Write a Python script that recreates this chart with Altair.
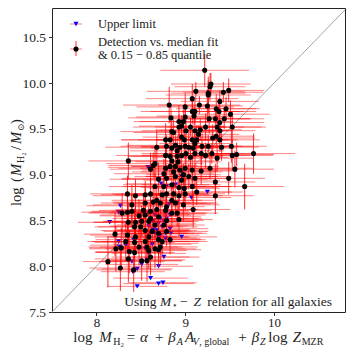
import altair as alt
import pandas as pd

# ---------------- data ----------------
det_x = [9.22, 9.29, 9.28, 9.12, 9.26, 9.26, 9.43, 9.49, 9.08, 9.39,
         9.00, 9.16, 9.25, 9.11, 9.08, 9.35, 9.38, 9.46, 9.51, 8.82,
         8.84, 9.00, 9.10, 9.27, 9.34, 9.44, 9.39, 8.98, 8.93, 8.96,
         8.93, 9.06, 9.17, 9.23, 9.36, 9.53, 8.85, 8.87, 9.01, 9.11,
         9.15, 9.39, 9.31, 8.83, 8.78, 8.96, 8.99, 9.08, 9.13, 9.35,
         9.39, 8.68, 8.79, 8.85, 8.89, 8.94, 9.00, 9.04, 9.09, 9.11,
         9.19, 9.26, 8.91, 9.41, 9.52, 8.78, 8.83, 8.91, 8.96, 9.01,
         9.06, 9.11, 9.18, 9.23, 9.30, 9.36, 9.53, 9.58, 9.77, 8.36,
         8.85, 8.92, 8.66, 8.64, 8.61, 8.78, 8.83, 8.89, 8.94, 9.00,
         9.08, 9.18, 9.28, 9.56, 8.76, 8.87, 8.98, 8.70, 8.79, 8.89,
         8.96, 9.04, 9.11, 9.34, 9.49, 9.67, 8.66, 8.76, 8.85, 8.93,
         8.99, 9.08, 8.35, 8.44, 8.55, 8.61, 8.74, 8.79, 8.87, 8.93,
         9.00, 9.13, 9.34, 8.68, 8.85, 8.40, 8.55, 8.64, 8.72, 8.79,
         8.89, 8.98, 8.29, 8.35, 8.40, 8.53, 8.61, 8.68, 8.78, 8.85,
         8.91, 9.09, 8.48, 8.55, 8.61, 8.70, 8.36, 8.44, 8.51, 8.59,
         8.79, 8.93, 8.43, 8.50, 8.66, 8.76, 8.55, 8.63, 8.70, 8.79,
         8.21, 8.35, 8.44, 8.59, 8.83, 8.70, 8.33, 8.43, 8.55, 8.74,
         8.22, 8.28, 8.48, 8.57, 8.66, 8.72, 8.37, 8.43, 8.59, 8.70,
         8.13, 8.27, 8.42, 8.51, 8.57, 8.36, 8.61]

det_y = [10.14, 9.99, 9.96, 9.91, 9.89, 9.87, 9.90, 9.92, 9.83, 9.80,
         9.74, 9.76, 9.75, 9.69, 9.69, 9.72, 9.69, 9.72, 9.66, 9.76,
         9.62, 9.63, 9.64, 9.61, 9.61, 9.61, 9.57, 9.58, 9.58, 9.53,
         9.52, 9.52, 9.49, 9.52, 9.52, 9.52, 9.47, 9.46, 9.48, 9.48,
         9.44, 9.48, 9.40, 9.38, 9.38, 9.41, 9.38, 9.38, 9.38, 9.42,
         9.38, 9.30, 9.31, 9.29, 9.32, 9.30, 9.31, 9.30, 9.29, 9.34,
         9.31, 9.31, 9.26, 9.30, 9.31, 9.21, 9.20, 9.20, 9.21, 9.23,
         9.19, 9.23, 9.23, 9.21, 9.23, 9.18, 9.21, 9.22, 9.23, 9.15,
         9.15, 9.14, 9.12, 9.10, 9.06, 9.07, 9.09, 9.09, 9.05, 9.07,
         9.05, 9.04, 9.07, 9.06, 9.01, 9.03, 9.00, 8.95, 8.96, 8.98,
         8.94, 8.98, 8.96, 8.92, 8.96, 8.87, 8.87, 8.87, 8.89, 8.86,
         8.85, 8.87, 8.79, 8.77, 8.78, 8.79, 8.78, 8.79, 8.79, 8.77,
         8.79, 8.81, 8.77, 8.72, 8.72, 8.67, 8.69, 8.70, 8.69, 8.65,
         8.69, 8.67, 8.58, 8.59, 8.60, 8.61, 8.60, 8.62, 8.61, 8.58,
         8.58, 8.62, 8.55, 8.56, 8.52, 8.54, 8.48, 8.48, 8.49, 8.49,
         8.50, 8.51, 8.43, 8.43, 8.45, 8.45, 8.39, 8.38, 8.36, 8.38,
         8.35, 8.34, 8.32, 8.32, 8.29, 8.29, 8.27, 8.26, 8.27, 8.27,
         8.19, 8.20, 8.21, 8.21, 8.19, 8.21, 8.16, 8.15, 8.17, 8.18,
         8.05, 7.98, 7.96, 8.06, 8.06, 8.08, 8.10]

det_xerr = [0.50, 0.45, 0.40, 0.55, 0.42, 0.48, 0.45, 0.40, 0.52, 0.44,
            0.55, 0.46, 0.40, 0.50, 0.58, 0.45, 0.42, 0.38, 0.44, 0.52,
            0.48, 0.55, 0.42, 0.46, 0.40, 0.45, 0.50, 0.56, 0.44, 0.48,
            0.52, 0.40, 0.47, 0.43, 0.50, 0.38, 0.58, 0.45, 0.50, 0.42,
            0.46, 0.40, 0.48, 0.55, 0.50, 0.44, 0.52, 0.40, 0.46, 0.43,
            0.45, 0.58, 0.52, 0.47, 0.55, 0.44, 0.50, 0.42, 0.48, 0.40,
            0.45, 0.50, 0.53, 0.42, 0.40, 0.56, 0.48, 0.52, 0.45, 0.50,
            0.43, 0.47, 0.41, 0.50, 0.44, 0.40, 0.46, 0.42, 0.47, 0.45,
            0.52, 0.48, 0.55, 0.50, 0.46, 0.53, 0.44, 0.49, 0.42, 0.51,
            0.45, 0.40, 0.48, 0.44, 0.56, 0.47, 0.42, 0.55, 0.50, 0.46,
            0.43, 0.48, 0.40, 0.45, 0.41, 0.44, 0.52, 0.47, 0.55, 0.43,
            0.40, 0.45, 0.42, 0.48, 0.50, 0.44, 0.53, 0.46, 0.42, 0.49,
            0.45, 0.40, 0.43, 0.51, 0.47, 0.44, 0.50, 0.46, 0.52, 0.43,
            0.48, 0.41, 0.38, 0.42, 0.45, 0.50, 0.44, 0.47, 0.52, 0.40,
            0.46, 0.42, 0.45, 0.50, 0.43, 0.48, 0.40, 0.46, 0.44, 0.50,
            0.42, 0.38, 0.45, 0.48, 0.43, 0.46, 0.50, 0.44, 0.40, 0.47,
            0.35, 0.42, 0.46, 0.44, 0.40, 0.48, 0.38, 0.45, 0.50, 0.42,
            0.30, 0.36, 0.44, 0.40, 0.46, 0.42, 0.38, 0.45, 0.43, 0.48,
            0.28, 0.35, 0.42, 0.45, 0.40, 0.38, 0.44]

det_yerr = [0.18, 0.12, 0.15, 0.10, 0.14, 0.20, 0.11, 0.13, 0.16, 0.12,
            0.15, 0.10, 0.18, 0.12, 0.14, 0.16, 0.11, 0.13, 0.15, 0.20,
            0.12, 0.14, 0.10, 0.16, 0.12, 0.11, 0.15, 0.13, 0.18, 0.12,
            0.14, 0.10, 0.12, 0.15, 0.13, 0.17, 0.11, 0.14, 0.12, 0.16,
            0.10, 0.13, 0.15, 0.12, 0.18, 0.11, 0.14, 0.12, 0.16, 0.10,
            0.13, 0.20, 0.12, 0.15, 0.11, 0.14, 0.13, 0.16, 0.12, 0.10,
            0.14, 0.12, 0.17, 0.15, 0.18, 0.13, 0.11, 0.15, 0.12, 0.14,
            0.13, 0.16, 0.12, 0.14, 0.11, 0.15, 0.17, 0.13, 0.22, 0.20,
            0.15, 0.12, 0.16, 0.14, 0.18, 0.13, 0.15, 0.12, 0.14, 0.16,
            0.13, 0.15, 0.12, 0.20, 0.16, 0.14, 0.12, 0.18, 0.15, 0.13,
            0.16, 0.14, 0.12, 0.20, 0.18, 0.25, 0.15, 0.17, 0.13, 0.15,
            0.14, 0.16, 0.20, 0.18, 0.15, 0.17, 0.14, 0.16, 0.13, 0.15,
            0.17, 0.14, 0.20, 0.16, 0.15, 0.22, 0.18, 0.16, 0.14, 0.17,
            0.15, 0.18, 0.22, 0.20, 0.18, 0.16, 0.15, 0.17, 0.14, 0.16,
            0.15, 0.20, 0.18, 0.16, 0.19, 0.15, 0.22, 0.18, 0.17, 0.16,
            0.14, 0.18, 0.20, 0.17, 0.16, 0.15, 0.19, 0.17, 0.18, 0.16,
            0.24, 0.20, 0.18, 0.17, 0.16, 0.19, 0.22, 0.20, 0.18, 0.17,
            0.25, 0.22, 0.20, 0.19, 0.21, 0.18, 0.24, 0.22, 0.20, 0.19,
            0.28, 0.25, 0.24, 0.22, 0.23, 0.26, 0.20]

lim_x = [8.58, 8.70, 8.73, 8.79, 8.89, 8.96, 8.96, 9.08, 9.25, 9.07,
         8.91, 8.82, 8.78, 8.83, 8.27, 8.25, 8.15, 8.59, 8.66, 8.72,
         8.79, 8.64, 8.70, 8.76, 8.59, 8.64, 8.68, 8.74, 8.83, 8.55,
         8.61, 8.66, 8.72, 8.78, 8.84, 8.59, 8.70, 8.78, 8.83, 8.96,
         8.25, 8.33, 8.42, 8.55, 8.74, 8.63, 8.38, 8.59, 8.76, 8.40,
         8.57, 8.51, 8.70, 8.41, 8.46, 8.61, 8.26, 8.46, 8.70, 8.75]

lim_y = [9.08, 8.95, 8.90, 8.87, 8.89, 9.03, 8.98, 8.87, 8.81, 8.75,
         8.69, 8.68, 8.58, 8.56, 8.66, 8.59, 8.48, 8.58, 8.56, 8.52,
         8.52, 8.49, 8.47, 8.49, 8.44, 8.40, 8.39, 8.43, 8.41, 8.38,
         8.36, 8.36, 8.34, 8.36, 8.36, 8.32, 8.31, 8.30, 8.27, 8.32,
         8.27, 8.23, 8.29, 8.19, 8.25, 8.24, 8.15, 8.14, 8.10, 8.05,
         8.07, 8.02, 8.00, 7.94, 7.97, 7.87, 8.21, 7.78, 7.81, 7.82]

lim_xerr = [0.45, 0.42, 0.40, 0.44, 0.38, 0.46, 0.41, 0.43, 0.40, 0.45,
            0.42, 0.47, 0.44, 0.40, 0.38, 0.42, 0.36, 0.45, 0.41, 0.43,
            0.40, 0.46, 0.42, 0.39, 0.44, 0.41, 0.45, 0.40, 0.43, 0.47,
            0.42, 0.38, 0.44, 0.41, 0.40, 0.46, 0.43, 0.39, 0.42, 0.40,
            0.35, 0.40, 0.43, 0.45, 0.41, 0.44, 0.38, 0.42, 0.40, 0.37,
            0.43, 0.41, 0.39, 0.36, 0.40, 0.42, 0.35, 0.34, 0.40, 0.38]

diag_vals = [7.5, 10.82]
x_ticks = [8, 9, 10]
y_ticks = [7.5, 8.0, 8.5, 9.0, 9.5, 10.0, 10.5]

# ---------------- chart ----------------
SERIF = "'Liberation Serif', 'Times New Roman', 'DejaVu Serif', serif"
TXT = "#222222"

det = pd.DataFrame({"x": det_x, "y": det_y, "xe": det_xerr, "ye": det_yerr})
det["x_lo"] = det["x"] - det["xe"]
det["x_hi"] = det["x"] + det["xe"]
det["y_lo"] = det["y"] - det["ye"]
det["y_hi"] = det["y"] + det["ye"]

lim = pd.DataFrame({"x": lim_x, "y": lim_y, "xe": lim_xerr})
lim["x_lo"] = lim["x"] - lim["xe"]
lim["x_hi"] = lim["x"] + lim["xe"]

diag = pd.DataFrame({"x": diag_vals, "y": diag_vals})

xs = alt.Scale(domain=[7.5, 10.8], nice=False, zero=False)
ys = alt.Scale(domain=[7.5, 10.82], nice=False, zero=False)

xaxis = alt.Axis(values=x_ticks, format="d", title=None, grid=False, domain=False,
                 tickSize=3.5, tickColor="#333", labelFont=SERIF, labelFontSize=13,
                 labelColor=TXT, labelPadding=1)
yaxis = alt.Axis(values=y_ticks, format=".1f", title=None, grid=False, domain=False,
                 tickSize=3.5, tickColor="#333", labelFont=SERIF, labelFontSize=13.5,
                 labelColor=TXT, labelPadding=3)


def X(f):
    return alt.X(f, type="quantitative", scale=xs, axis=xaxis)


def Y(f):
    return alt.Y(f, type="quantitative", scale=ys, axis=yaxis)


line = alt.Chart(diag).mark_line(color="#999999", strokeWidth=0.9, clip=True).encode(
    x=X("x"), y=Y("y"))

lim_h = alt.Chart(lim).mark_rule(color="red", opacity=0.48, strokeWidth=1).encode(
    x=X("x_lo"), x2="x_hi", y=Y("y"))
lim_pt = alt.Chart(lim).mark_point(shape="triangle-down", filled=True, color="blue",
                                   size=26, opacity=1).encode(x=X("x"), y=Y("y"))
det_h = alt.Chart(det).mark_rule(color="red", opacity=0.48, strokeWidth=1).encode(
    x=X("x_lo"), x2="x_hi", y=Y("y"))
det_v = alt.Chart(det).mark_rule(color="red", opacity=0.8, strokeWidth=1).encode(
    x=X("x"), y=Y("y_lo"), y2="y_hi")
det_pt = alt.Chart(det).mark_circle(color="black", size=26, opacity=1).encode(
    x=X("x"), y=Y("y"))

one = pd.DataFrame({"k": [0]})


def txt(s, x, y, size=15, style="normal", angle=0, align="left", baseline="alphabetic"):
    return alt.Chart(one).mark_text(text=s, fontSize=size, fontStyle=style, angle=angle,
                                    align=align, baseline=baseline, font=SERIF,
                                    color=TXT).encode(x=alt.value(x), y=alt.value(y))


def seg(x1, x2, y1, y2, op):
    return alt.Chart(one).mark_rule(color="red", opacity=op, strokeWidth=1).encode(
        x=alt.value(x1), x2=alt.value(x2), y=alt.value(y1), y2=alt.value(y2))


layers = [line, lim_h, lim_pt, det_h, det_v, det_pt]

# legend
layers += [
    seg(18, 30, 16, 16, 0.5),
    alt.Chart(one).mark_point(shape="triangle-down", filled=True, color="blue", size=26,
                              opacity=1).encode(x=alt.value(24), y=alt.value(16)),
    seg(18, 30, 41, 41, 0.5),
    seg(24, 24, 33, 48, 0.8),
    alt.Chart(one).mark_circle(color="black", size=26, opacity=1).encode(
        x=alt.value(24), y=alt.value(41)),
    txt("Upper limit", 46, 16, size=12.5, baseline="middle"),
    txt("Detection vs. median fit", 46, 33.5, size=12.5, baseline="middle"),
    txt("& 0.15 \u2212 0.85 quantile", 46, 47, size=12.5, baseline="middle"),
]

# annotation bottom right
ab = 297.5
layers += [
    txt("Using", 104.5, ab, size=13.5, align="right"),
    txt("M", 108, ab, size=13.5, style="italic"),
    txt("\u22c6", 119.5, ab + 2.5, size=8.5),
    txt("\u2212", 128, ab, size=13.5),
    txt("Z", 141.5, ab, size=13.5, style="italic"),
    txt("relation for all galaxies", 280, ab, size=13.5, align="right"),
]

# x title
xb = 334
layers += [
    txt("log", 21.3, xb),
    txt("M", 47.3, xb, style="italic"),
    txt("H\u2082", 61.3, xb + 3, size=10),
    txt("=", 74.7, xb),
    txt("\u03b1", 88, xb, style="italic"),
    txt("+", 103, xb),
    txt("\u03b2", 116.3, xb, style="italic"),
    txt("A", 124.7, xb + 3, size=10, style="italic"),
    txt("A", 133, xb, style="italic"),
    txt("V", 140.7, xb + 3, size=10, style="italic"),
    txt(", global", 147.3, xb + 3, size=10),
    txt("+", 186.3, xb),
    txt("\u03b2", 199.7, xb, style="italic"),
    txt("Z", 208, xb + 3, size=10, style="italic"),
    txt("log", 216.3, xb),
    txt("Z", 240.7, xb, style="italic"),
    txt("MZR", 249.7, xb + 3, size=10),
]

# y title (rotated)
yx = -31
ys_ = 14.5
layers += [
    txt("log", yx, 198, size=ys_, angle=270),
    txt("(", yx, 174, size=ys_, angle=270),
    txt("M", yx, 168, size=ys_, angle=270, style="italic"),
    txt("H\u2082", yx + 3, 155, size=10, angle=270),
    txt("/", yx, 142, size=ys_, angle=270),
    txt("M", yx, 136, size=ys_, angle=270, style="italic"),
    txt("\u2299", yx + 3, 123, size=9, angle=270),
    txt(")", yx, 116, size=ys_, angle=270),
]

chart = alt.layer(*layers).properties(
    width=293, height=304,
    autosize=alt.AutoSizeParams(type="none"),
    padding={"left": 44, "top": 0, "right": 1, "bottom": 42},
).configure_view(stroke="#222", strokeWidth=1)

chart.save("out.html", embed_options={"renderer": "svg", "actions": False})
